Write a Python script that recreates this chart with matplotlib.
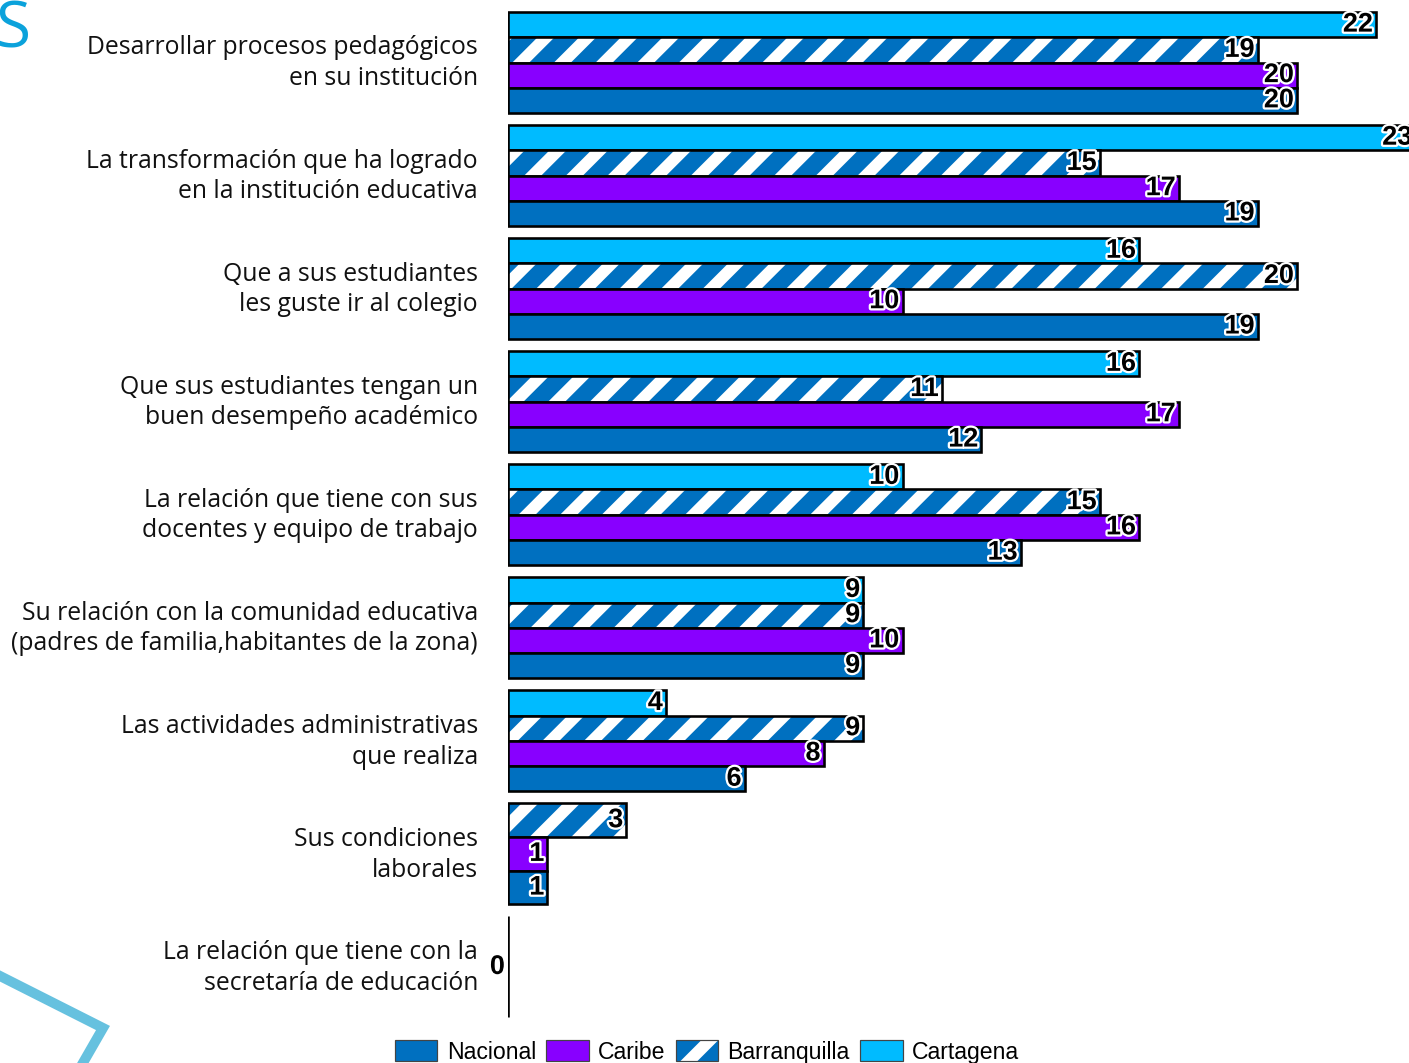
import matplotlib
matplotlib.use("Agg")
import matplotlib.pyplot as plt
from matplotlib.patches import Patch
from matplotlib.lines import Line2D
from matplotlib.legend_handler import HandlerTuple
import matplotlib.patheffects as pe

DPI = 250
P = 72.0 / DPI  # pixel -> points

categories = [
    "Desarrollar procesos pedagógicos\nen su institución",
    "La transformación que ha logrado\nen la institución educativa",
    "Que a sus estudiantes\nles guste ir al colegio",
    "Que sus estudiantes tengan un\nbuen desempeño académico",
    "La relación que tiene con sus\ndocentes y equipo de trabajo",
    "Su relación con la comunidad educativa\n(padres de familia,habitantes de la zona)",
    "Las actividades administrativas\nque realiza",
    "Sus condiciones\nlaborales",
    "La relación que tiene con la\nsecretaría de educación",
]
series_names = ["Cartagena", "Barranquilla", "Caribe", "Nacional"]
cartagena    = [22, 23, 16, 16, 10, 9, 4, 0, 0]
barranquilla = [19, 15, 20, 11, 15, 9, 9, 3, 0]
caribe       = [20, 17, 10, 17, 16, 10, 8, 1, 0]
nacional     = [20, 19, 19, 12, 13, 9, 6, 1, 0]

colors = {"Cartagena": "#00BBFF", "Barranquilla": "#0070C0",
          "Caribe": "#8800FF", "Nacional": "#0070C0"}
hatched = {"Barranquilla"}

plt.rcParams["hatch.linewidth"] = 12 * P

fig = plt.figure(figsize=(1409 / DPI, 1063 / DPI), dpi=DPI)
W, H = 1409.0, 1063.0
x0_px, scale = 508.0, 39.45
top_c, pitch = 62.5, 113.06
ax_bottom_px = 1030.0
ax = fig.add_axes([x0_px / W, 1 - ax_bottom_px / H, (W - x0_px) / W, ax_bottom_px / H])
ax.set_xlim(0, (W - x0_px) / scale)
ax.set_ylim((ax_bottom_px - top_c) / pitch, -top_c / pitch)

group_h = 101.0 / pitch
edge_lw = 2.6 * P
data = [cartagena, barranquilla, caribe, nacional]
for i in range(len(categories)):
    items = [(s, d[i]) for s, d in zip(series_names, data) if d[i] > 0]
    if not items:
        items = [("Nacional", 0)]
    n = len(items)
    h = group_h / n
    top = i - group_h / 2
    for k, (s, v) in enumerate(items):
        yc = top + (k + 0.5) * h
        if s in hatched:
            ax.barh(yc, v, height=h, color=colors[s], edgecolor="white",
                    linewidth=0, hatch="//")
            ax.barh(yc, v, height=h, fill=False, edgecolor="black", linewidth=edge_lw)
        else:
            ax.barh(yc, v, height=h, color=colors[s], edgecolor="black", linewidth=edge_lw)
        ax.annotate(str(v), xy=(v, yc), xytext=(-3 * P, 0), textcoords="offset points",
                    ha="right", va="center", fontsize=27 * P, fontweight="bold",
                    family="Liberation Sans", color="black", annotation_clip=False,
                    path_effects=[pe.withStroke(linewidth=4.5 * P, foreground="white")])

label_lift = 5.0 / pitch
ax.set_yticks([i - label_lift for i in range(len(categories))])
ax.set_yticklabels(categories, fontsize=24.8 * P, family="Open Sans", linespacing=1.3,
                   color="#111111")
ax.tick_params(axis="y", length=0, pad=30 * P)
ax.set_xticks([])
for sp in ax.spines.values():
    sp.set_visible(False)

# legend
lg_lw = 1.2 * P
h_nac = Patch(facecolor=colors["Nacional"], edgecolor="#444444", linewidth=lg_lw)
h_car = Patch(facecolor=colors["Caribe"], edgecolor="#444444", linewidth=lg_lw)
h_bar = (Patch(facecolor=colors["Barranquilla"], edgecolor="white", linewidth=0, hatch="//"),
         Patch(fill=False, edgecolor="#444444", linewidth=lg_lw))
h_cta = Patch(facecolor=colors["Cartagena"], edgecolor="#444444", linewidth=lg_lw)
fig.legend([h_nac, h_car, h_bar, h_cta], ["Nacional", "Caribe", "Barranquilla", "Cartagena"],
           handler_map={tuple: HandlerTuple(ndivide=1)},
           loc="center", bbox_to_anchor=(707 / W, 1 - 1052 / H), ncol=4, frameon=False,
           prop={"family": "Liberation Sans", "size": 23 * P},
           handlelength=1.85, handleheight=1.0, handletextpad=0.4, columnspacing=0.45,
           borderpad=0)

# slide decorations
fig.text(-4 / W, 1 - 47 / H, "S", color="#0BA2DB", fontsize=64 * P, family="Open Sans",
         ha="left", va="baseline")
fig.add_artist(Line2D([0 / W, 103 / W, 80 / W], [1 - 976 / H, 1 - 1028 / H, 1 - 1068 / H],
                      color="#66C1DF", linewidth=10 * P, solid_joinstyle="miter",
                      transform=fig.transFigure))

fig.savefig("out.png", dpi=DPI)
